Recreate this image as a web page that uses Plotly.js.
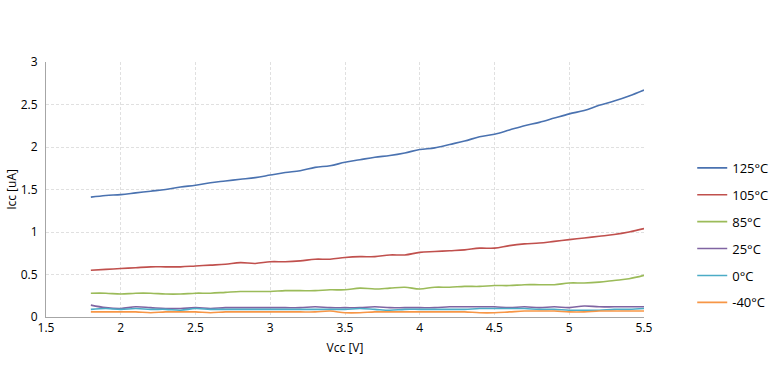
<!DOCTYPE html>
<html>
<head>
<meta charset="utf-8">
<script src="https://cdn.plot.ly/plotly-3.0.1.min.js"></script>
<style>html,body{margin:0;padding:0;background:#fff;}#chart{width:770px;height:376px;}</style>
</head>
<body>
<div id="chart"></div>
<script>
const vcc = [1.8,1.9,2.0,2.1,2.2,2.3,2.4,2.5,2.6,2.7,2.8,2.9,3.0,3.1,3.2,3.3,3.4,3.5,3.6,3.7,3.8,3.9,4.0,4.1,4.2,4.3,4.4,4.5,4.6,4.7,4.8,4.9,5.0,5.1,5.2,5.3,5.4,5.5];
const t125 = [1.41,1.43,1.44,1.46,1.48,1.50,1.53,1.55,1.58,1.60,1.62,1.64,1.67,1.70,1.72,1.76,1.78,1.82,1.85,1.88,1.90,1.93,1.97,1.99,2.03,2.07,2.12,2.15,2.20,2.25,2.29,2.34,2.39,2.43,2.49,2.54,2.60,2.67];
const t105 = [0.55,0.56,0.57,0.58,0.59,0.59,0.59,0.60,0.61,0.62,0.64,0.63,0.65,0.65,0.66,0.68,0.68,0.70,0.71,0.71,0.73,0.73,0.76,0.77,0.78,0.79,0.81,0.81,0.84,0.86,0.87,0.89,0.91,0.93,0.95,0.97,1.00,1.04];
const t85  = [0.28,0.28,0.27,0.28,0.28,0.27,0.27,0.28,0.28,0.29,0.30,0.30,0.30,0.31,0.31,0.31,0.32,0.32,0.34,0.33,0.34,0.35,0.33,0.35,0.35,0.36,0.36,0.37,0.37,0.38,0.38,0.38,0.40,0.40,0.41,0.43,0.45,0.49];
const t25  = [0.14,0.11,0.10,0.12,0.11,0.10,0.10,0.11,0.10,0.11,0.11,0.11,0.11,0.11,0.11,0.12,0.11,0.11,0.11,0.12,0.11,0.11,0.11,0.11,0.12,0.12,0.12,0.12,0.11,0.12,0.11,0.12,0.11,0.13,0.12,0.12,0.12,0.12];
const t0   = [0.09,0.10,0.09,0.10,0.09,0.09,0.08,0.10,0.09,0.09,0.09,0.09,0.09,0.09,0.09,0.09,0.09,0.09,0.10,0.09,0.08,0.09,0.09,0.09,0.09,0.09,0.10,0.10,0.10,0.10,0.09,0.09,0.08,0.08,0.08,0.09,0.09,0.10];
const tm40 = [0.06,0.06,0.06,0.06,0.05,0.06,0.06,0.06,0.05,0.06,0.06,0.06,0.06,0.06,0.06,0.06,0.07,0.05,0.05,0.06,0.06,0.06,0.06,0.06,0.06,0.06,0.05,0.05,0.06,0.07,0.07,0.07,0.06,0.06,0.07,0.07,0.07,0.07];
const names = ["125°C","105°C","85°C","25°C","0°C","-40°C"];
const series = [t125,t105,t85,t25,t0,tm40];
const colors = ["#4a72b0","#c0504d","#9bbb59","#8064a2","#4bacc6","#f79646"];

const traces = series.map((ys,i)=>({
  x: vcc, y: ys, name: names[i], type:'scatter', mode:'lines',
  line:{color:colors[i], width:1.6, shape:'spline'},
  legendgroup:'g'+i
}));

const axisFont = {family:'"Open Sans", "Noto Sans", sans-serif', size:12, color:'#000'};
const layout = {
  width:770, height:376,
  margin:{l:46, r:126, t:62, b:59, autoexpand:false},
  paper_bgcolor:'#fff', plot_bgcolor:'#fff',
  showlegend:true,
  legend:{xref:'container', yref:'container', x:0.899, xanchor:'left', y:0.374, yanchor:'middle', font:{family:'"Open Sans", "Noto Sans", sans-serif', size:13, color:'#000'}, traceorder:'grouped', tracegroupgap:7, bgcolor:'rgba(0,0,0,0)'},
  xaxis:{range:[1.5,5.5], dtick:0.5, tick0:1.5, showgrid:true, gridcolor:'#e0e0e0', griddash:'3px,2px', gridwidth:1,
    showline:true, linecolor:'#a6a6a6', linewidth:1, zeroline:false, ticks:'', tickfont:axisFont,
    title:{text:'Vcc [V]', font:axisFont, standoff:8}},
  yaxis:{range:[0,3], dtick:0.5, showgrid:true, gridcolor:'#e0e0e0', griddash:'3px,2px', gridwidth:1,
    showline:true, linecolor:'#a6a6a6', linewidth:1, zeroline:false, ticks:'', tickfont:axisFont,
    ticklabelstandoff:5,
    title:{text:'Icc [uA]', font:axisFont, standoff:1}}
};
Plotly.newPlot('chart', traces, layout, {staticPlot:true, displayModeBar:false});
</script>
</body>
</html>
